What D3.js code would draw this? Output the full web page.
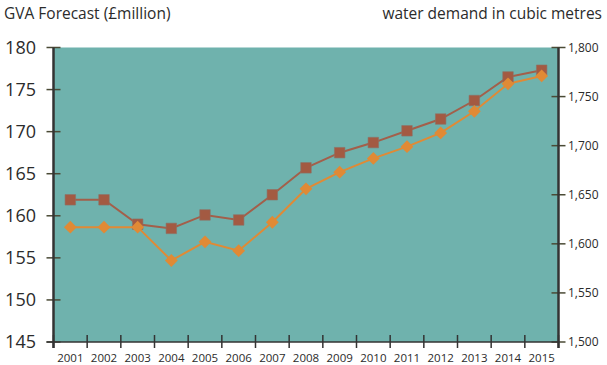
<!DOCTYPE html>
<html>
<head>
<meta charset="utf-8">
<script src="https://cdn.jsdelivr.net/npm/d3@7"></script>
<style>
  html, body { margin: 0; padding: 0; background: #fff; }
  svg { display: block; }
  text { font-family: "Open Sans", "Noto Sans", sans-serif; fill: #2b2b2b; }
</style>
</head>
<body>
<svg id="chart" width="607" height="365"></svg>
<script>
// Years on the horizontal axis
const years = ["2001","2002","2003","2004","2005","2006","2007","2008","2009","2010","2011","2012","2013","2014","2015"];
// GVA forecast, £million (left axis)
const gva = [161.9, 161.9, 159.0, 158.5, 160.1, 159.5, 162.5, 165.7, 167.5, 168.7, 170.1, 171.5, 173.7, 176.5, 177.3];
// Water demand, cubic metres (right axis)
const water = [1617, 1617, 1617, 1583, 1602, 1593, 1622, 1656, 1673, 1687, 1699, 1713, 1735, 1763, 1771];
// Tick values
const leftTicks = [145, 150, 155, 160, 165, 170, 175, 180];
const rightTicks = [1500, 1550, 1600, 1650, 1700, 1750, 1800];

const svg = d3.select("#chart");
const plot = { left: 53.5, right: 558.5, top: 47.5, bottom: 342 };

const x = d3.scaleBand().domain(years).range([plot.left, plot.right]).padding(0);
const yL = d3.scaleLinear().domain([145, 180]).range([plot.bottom, plot.top]);
const yR = d3.scaleLinear().domain([1500, 1800]).range([plot.bottom, plot.top]);

// Plot background
svg.append("rect")
  .attr("x", plot.left).attr("y", plot.top)
  .attr("width", plot.right - plot.left).attr("height", plot.bottom - plot.top)
  .attr("fill", "#6fb2ad");

// Axis titles
svg.append("text").attr("x", 4).attr("y", 19)
  .style("font-size", "15.5px").text("GVA Forecast (£million)");
svg.append("text").attr("x", 602).attr("y", 19).attr("text-anchor", "end")
  .style("font-size", "15.5px").text("water demand in cubic metres");

// Left axis: ticks cross the axis line
const gL = svg.append("g");
gL.selectAll("line.tick").data(leftTicks).join("line")
  .attr("x1", plot.left - 7).attr("x2", plot.left + 7)
  .attr("y1", d => yL(d)).attr("y2", d => yL(d))
  .attr("stroke", "#4a4a35").attr("stroke-width", 1.5);
gL.selectAll("text").data(leftTicks).join("text")
  .attr("x", 36).attr("y", d => yL(d)).attr("dy", "0.36em")
  .attr("text-anchor", "end").style("font-size", "18px")
  .text(d => d);

// Right axis
const gR = svg.append("g");
gR.selectAll("line.tick").data(rightTicks).join("line")
  .attr("x1", plot.right - 7).attr("x2", plot.right + 7)
  .attr("y1", d => yR(d)).attr("y2", d => yR(d))
  .attr("stroke", "#4a4a35").attr("stroke-width", 1.5);
gR.selectAll("text").data(rightTicks).join("text")
  .attr("x", 568).attr("y", d => yR(d)).attr("dy", "0.36em")
  .style("font-size", "12px")
  .text(d => d3.format(",")(d));

// Bottom axis: ticks at band edges, labels at band centres
const edges = years.map(d => x(d)).concat([plot.right]);
svg.selectAll("line.xtick").data(edges).join("line")
  .attr("x1", d => d).attr("x2", d => d)
  .attr("y1", plot.bottom - 7).attr("y2", plot.bottom + 6)
  .attr("stroke", "#333").attr("stroke-width", 1.5);
svg.selectAll("text.year").data(years).join("text")
  .attr("class", "year")
  .attr("x", d => x(d) + x.bandwidth() / 2).attr("y", 362)
  .attr("text-anchor", "middle").style("font-size", "11.5px")
  .text(d => d);

// Axis lines
svg.append("line").attr("x1", plot.left - 7).attr("x2", plot.right)
  .attr("y1", plot.bottom).attr("y2", plot.bottom)
  .attr("stroke", "#333").attr("stroke-width", 1.5);
svg.append("line").attr("x1", plot.left).attr("x2", plot.left)
  .attr("y1", plot.top).attr("y2", plot.bottom + 6)
  .attr("stroke", "#333").attr("stroke-width", 2.5);
svg.append("line").attr("x1", plot.right).attr("x2", plot.right)
  .attr("y1", plot.top).attr("y2", plot.bottom + 6)
  .attr("stroke", "#333").attr("stroke-width", 2.5);

const cx = d => x(d) + x.bandwidth() / 2;

// GVA series: brown line with squares
const gvaData = years.map((d, i) => ({ year: d, v: gva[i] }));
svg.append("path").datum(gvaData)
  .attr("fill", "none").attr("stroke", "#a35f4a").attr("stroke-width", 2)
  .attr("d", d3.line().x(d => cx(d.year)).y(d => yL(d.v)));

// Water series: orange line with diamonds
const waterData = years.map((d, i) => ({ year: d, v: water[i] }));
svg.append("path").datum(waterData)
  .attr("fill", "none").attr("stroke", "#e08a35").attr("stroke-width", 2)
  .attr("d", d3.line().x(d => cx(d.year)).y(d => yR(d.v)));

svg.selectAll("path.sq").data(gvaData).join("path")
  .attr("class", "sq")
  .attr("transform", d => `translate(${cx(d.year)},${yL(d.v)})`)
  .attr("d", d3.symbol(d3.symbolSquare, 110)())
  .attr("fill", "#a35a42").attr("stroke", "#8f7064").attr("stroke-width", 0.6);

svg.selectAll("path.dm").data(waterData).join("path")
  .attr("class", "dm")
  .attr("transform", d => `translate(${cx(d.year)},${yR(d.v)}) rotate(45)`)
  .attr("d", d3.symbol(d3.symbolSquare, 82)())
  .attr("fill", "#e08a35");
</script>
</body>
</html>
